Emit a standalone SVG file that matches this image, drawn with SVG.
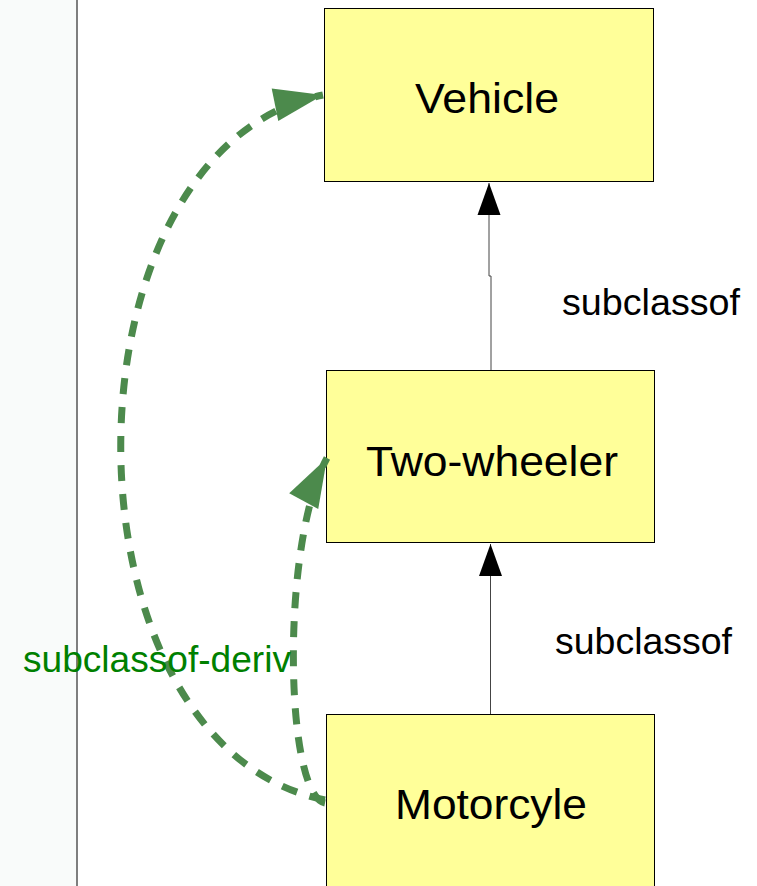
<svg xmlns="http://www.w3.org/2000/svg" width="757" height="886" viewBox="0 0 757 886">
<style>
.node rect{fill:#ffff99;stroke:#000;stroke-width:1}
.lbl{font-family:"Liberation Sans",Arial,sans-serif;fill:#000}
.edge{fill:none;stroke:#444;stroke-width:1}
.deriv{fill:none;stroke:#4c8a4c;stroke-width:7;stroke-dasharray:16,13}
.dlbl{font-family:"Liberation Sans",Arial,sans-serif;fill:#008000}
</style>
<defs>
<marker id="ah" markerUnits="userSpaceOnUse" markerWidth="24" markerHeight="34" refX="0" refY="0" orient="auto" overflow="visible">
<path d="M0,0 L-32,-11.5 L-32,11.5 z" fill="#000"/>
</marker>
<marker id="gh" markerUnits="userSpaceOnUse" markerWidth="50" markerHeight="34" refX="0" refY="0" orient="auto" overflow="visible">
<path d="M0,0 L-49,-16.5 L-49,16.5 z" fill="#4c8a4c"/>
</marker>
</defs>
<rect x="0" y="0" width="77" height="886" fill="#f9fbfa"/>
<line x1="77" y1="0" x2="77" y2="886" stroke="#555" stroke-width="1.5"/>
<g id="vehicle" class="node">
<rect x="324.5" y="8.5" width="329" height="173"/>
<text class="lbl" x="415" y="113" font-size="42" textLength="144" lengthAdjust="spacingAndGlyphs">Vehicle</text>
</g>
<g id="two-wheeler" class="node">
<rect x="326.5" y="370.5" width="328" height="172"/>
<text class="lbl" x="366" y="476" font-size="42" textLength="252" lengthAdjust="spacingAndGlyphs">Two-wheeler</text>
</g>
<g id="motorcycle" class="node">
<rect x="326.5" y="714.5" width="328" height="200"/>
<text class="lbl" x="395" y="819" font-size="42" textLength="192" lengthAdjust="spacingAndGlyphs">Motorcyle</text>
</g>
<g id="connectors">
<path class="edge" d="M491 370 L491 276 L489 276 L489 183" marker-end="url(#ah)"/>
<text class="lbl" x="562" y="315" font-size="37" textLength="178" lengthAdjust="spacingAndGlyphs">subclassof</text>
<path class="edge" d="M490.5 714 L490.5 544" marker-end="url(#ah)"/>
<text class="lbl" x="555" y="654" font-size="37" textLength="177" lengthAdjust="spacingAndGlyphs">subclassof</text>
<path class="deriv" d="M325 800 C53 745 53 150 323 95" marker-end="url(#gh)"/>
<path class="deriv" d="M325 803 C285 795 280 545 327 458" marker-end="url(#gh)"/>
<text class="dlbl" x="23" y="672" font-size="37" textLength="268" lengthAdjust="spacingAndGlyphs">subclassof-deriv</text>
</g>
</svg>
